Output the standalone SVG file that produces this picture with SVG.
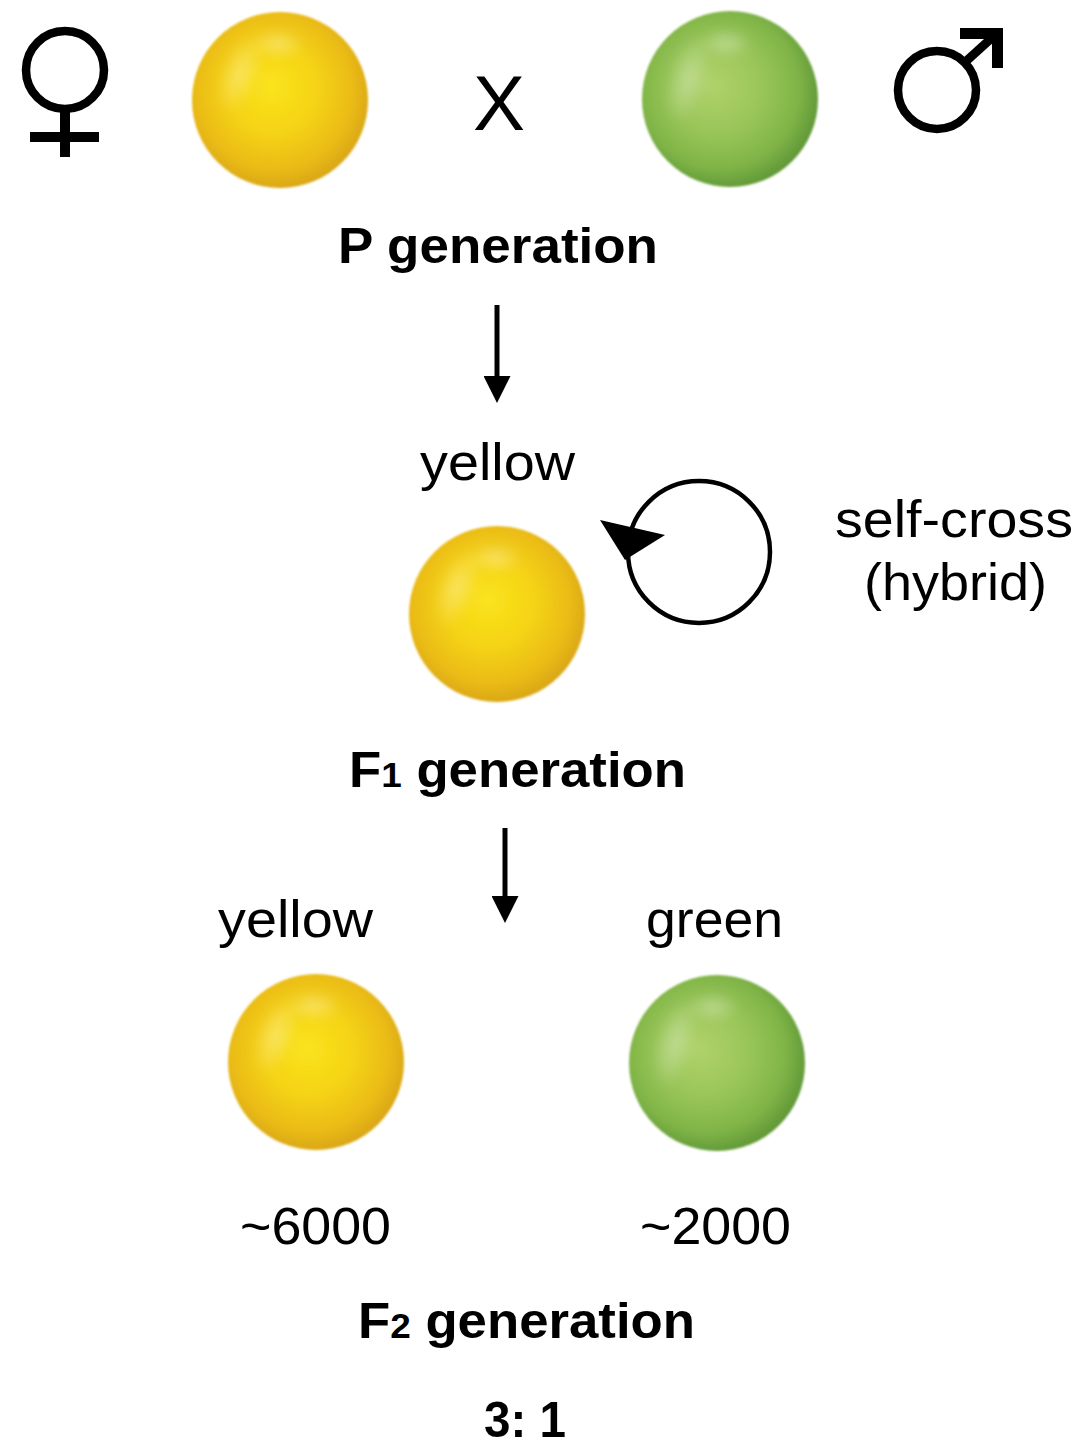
<svg xmlns="http://www.w3.org/2000/svg" width="1083" height="1449" viewBox="0 0 1083 1449">
  <style>
    .lbl { font-family: "Liberation Sans", Arial, sans-serif; font-size: 52px; fill: #000; }
    .bold { font-family: "Liberation Sans", Arial, sans-serif; font-size: 50px; font-weight: bold; fill: #000; }
    .sym { fill: none; stroke: #000; }
    .wire { stroke: #000; stroke-width: 5; fill: none; }
  </style>
  <defs>
    <!-- pea body shading -->
    <radialGradient id="yellowBody" cx="0.47" cy="0.45" r="0.56" fx="0.45" fy="0.42">
      <stop offset="0" stop-color="#FAE41C"/>
      <stop offset="0.45" stop-color="#F5D316"/>
      <stop offset="0.8" stop-color="#EABB12"/>
      <stop offset="1" stop-color="#D9A612"/>
    </radialGradient>
    <radialGradient id="greenBody" cx="0.45" cy="0.45" r="0.56" fx="0.4" fy="0.42">
      <stop offset="0" stop-color="#B0D26A"/>
      <stop offset="0.45" stop-color="#9AC659"/>
      <stop offset="0.8" stop-color="#80B447"/>
      <stop offset="1" stop-color="#629A38"/>
    </radialGradient>
    <radialGradient id="shine" cx="0.5" cy="0.5" r="0.5">
      <stop offset="0" stop-color="#FFFFFF" stop-opacity="0.32"/>
      <stop offset="1" stop-color="#FFFFFF" stop-opacity="0"/>
    </radialGradient>
    <filter id="soft" x="-20%" y="-20%" width="140%" height="140%">
      <feGaussianBlur stdDeviation="1.2"/>
    </filter>
    <filter id="haze" x="-50%" y="-50%" width="200%" height="200%">
      <feGaussianBlur stdDeviation="5"/>
    </filter>
    <marker id="head" viewBox="0 0 26 26" refX="0" refY="13" markerWidth="27" markerHeight="27" markerUnits="userSpaceOnUse" orient="auto">
      <path d="M0,0 L26,13 L0,26 Z" fill="#000"/>
    </marker>
    <!-- reusable peas, drawn at the origin -->
    <g id="yellowPea">
      <circle r="88" fill="url(#yellowBody)" filter="url(#soft)"/>
      <ellipse cx="-40" cy="-26" rx="20" ry="42" transform="rotate(20 -40 -26)" fill="url(#shine)" filter="url(#haze)"/>
      <ellipse cx="-2" cy="-56" rx="28" ry="16" fill="url(#shine)" filter="url(#haze)"/>
    </g>
    <g id="greenPea">
      <circle r="88" fill="url(#greenBody)" filter="url(#soft)"/>
      <ellipse cx="-42" cy="-20" rx="20" ry="46" transform="rotate(16 -42 -20)" fill="url(#shine)" filter="url(#haze)"/>
      <ellipse cx="-4" cy="-56" rx="28" ry="16" fill="url(#shine)" filter="url(#haze)"/>
    </g>
  </defs>

  <rect width="1083" height="1449" fill="#FFFFFF"/>

  <!-- parental generation -->
  <g id="female-symbol">
    <circle class="sym" cx="65" cy="70" r="39" stroke-width="8.5"/>
    <line class="sym" x1="65" y1="109" x2="65" y2="157" stroke-width="10"/>
    <line class="sym" x1="30" y1="137" x2="99" y2="137" stroke-width="10"/>
  </g>
  <g id="p-yellow-pea"><use href="#yellowPea" x="280" y="100"/></g>
  <g id="cross-sign"><text class="lbl" x="499" y="130" text-anchor="middle" style="font-size:78px">X</text></g>
  <g id="p-green-pea"><use href="#greenPea" x="730" y="99"/></g>
  <g id="male-symbol">
    <circle class="sym" cx="937" cy="90" r="39" stroke-width="8.5"/>
    <line class="sym" x1="963" y1="64" x2="995" y2="35" stroke-width="9"/>
    <polygon points="960,28 1003,28 1003,68 992,68 992,39 960,39" fill="#000"/>
  </g>
  <g id="p-label"><text class="bold" x="338" y="263" textLength="320" lengthAdjust="spacingAndGlyphs">P generation</text></g>

  <!-- first filial generation -->
  <g id="f1-color-label"><text class="lbl" x="420" y="480" textLength="155" lengthAdjust="spacingAndGlyphs">yellow</text></g>
  <g id="f1-pea"><use href="#yellowPea" x="497" y="614"/></g>
  <g id="self-cross-label">
    <text class="lbl" x="835" y="537" textLength="238" lengthAdjust="spacingAndGlyphs">self-cross</text>
    <text class="lbl" x="864" y="600" textLength="183" lengthAdjust="spacingAndGlyphs">(hybrid)</text>
  </g>
  <g id="f1-label"><text class="bold" x="349" y="787" textLength="337" lengthAdjust="spacingAndGlyphs">F<tspan style="font-size:35px">1</tspan> generation</text></g>

  <!-- second filial generation -->
  <g id="f2-yellow-label"><text class="lbl" x="218" y="937" textLength="155" lengthAdjust="spacingAndGlyphs">yellow</text></g>
  <g id="f2-green-label"><text class="lbl" x="646" y="937" textLength="137" lengthAdjust="spacingAndGlyphs">green</text></g>
  <g id="f2-yellow-pea"><use href="#yellowPea" x="316" y="1062"/></g>
  <g id="f2-green-pea"><use href="#greenPea" x="717" y="1063"/></g>
  <g id="f2-yellow-count"><text class="lbl" x="240" y="1244" textLength="151" lengthAdjust="spacingAndGlyphs">~6000</text></g>
  <g id="f2-green-count"><text class="lbl" x="640" y="1244" textLength="151" lengthAdjust="spacingAndGlyphs">~2000</text></g>
  <g id="f2-label"><text class="bold" x="358" y="1338" textLength="337" lengthAdjust="spacingAndGlyphs">F<tspan style="font-size:35px">2</tspan> generation</text></g>
  <g id="ratio"><text class="bold" x="525" y="1437" text-anchor="middle" textLength="82" lengthAdjust="spacingAndGlyphs">3: 1</text></g>

  <!-- connectors -->
  <g id="connectors">
    <line class="wire" x1="497" y1="305" x2="497" y2="376" marker-end="url(#head)"/>
    <line class="wire" x1="505" y1="828" x2="505" y2="896" marker-end="url(#head)"/>
    <g id="self-cross-loop">
      <circle cx="699" cy="552" r="71" fill="none" stroke="#000" stroke-width="4.5"/>
      <polygon points="600,520 665,535 625,560" fill="#000"/>
    </g>
  </g>
</svg>
